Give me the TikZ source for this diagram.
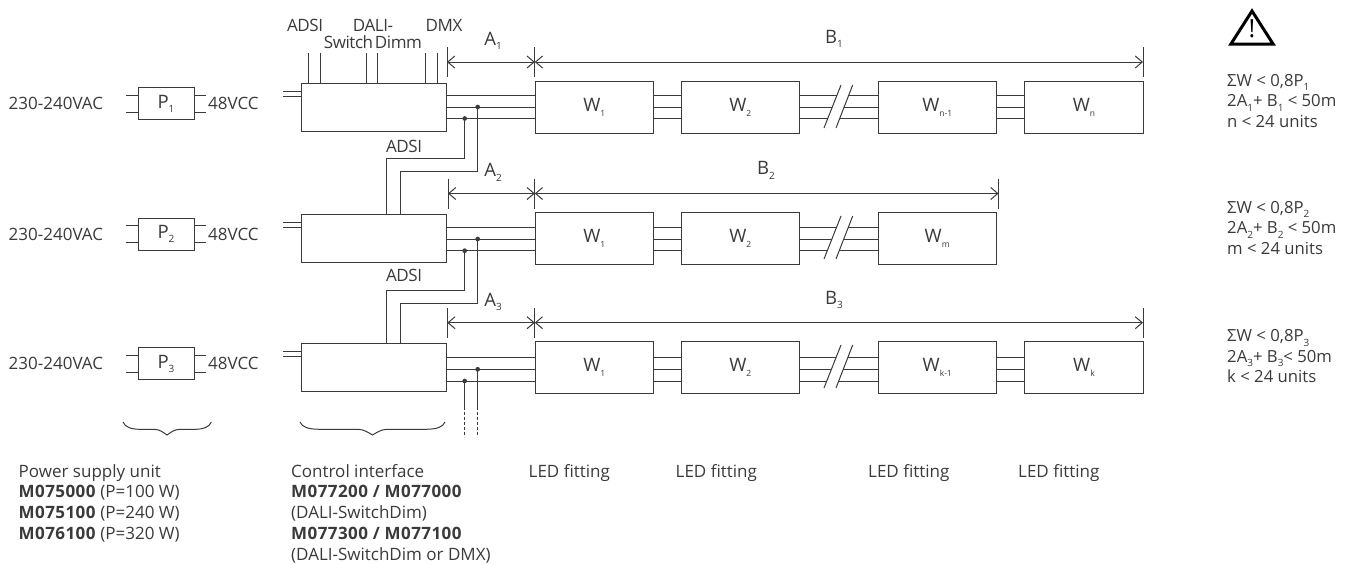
\documentclass[tikz,border=0pt]{standalone}
\usepackage{fontspec}
\setmainfont{Open Sans}
\usetikzlibrary{arrows.meta}
\definecolor{ink}{HTML}{3A3A3A}
\newcommand{\subl}[1]{\raisebox{-4.5pt}{\fontsize{10}{10}\selectfont #1}}
\newcommand{\subw}[1]{\raisebox{-5pt}{\fontsize{8.5}{8.5}\selectfont #1}}
\newcommand{\code}[1]{\textbf{\addfontfeature{LetterSpace=2.5}#1}}
\begin{document}
\begin{tikzpicture}[
    x=1pt,y=-1pt,
    every node/.style={font=\fontsize{17}{20}\selectfont, text=ink},
    wire/.style={draw=ink, line width=1pt},
    unit/.style={wire, inner sep=0pt, outer sep=0pt, fill=white, font=\fontsize{18.5}{20}\selectfont},
    psu/.style={unit, minimum width=56pt, minimum height=32pt},
    ctrl/.style={unit, minimum width=145pt, minimum height=48pt},
    fitting/.style={unit, minimum width=118.5pt, minimum height=52pt},
    dot/.style={circle, fill=ink, inner sep=0pt, minimum size=4.7pt},
    dim/.style={wire, {Straight Barb[length=7pt,width=12pt]}-{Straight Barb[length=7pt,width=12pt]}},
    dimlabel/.style={font=\fontsize{18.5}{20}\selectfont},
    toplabel/.style={font=\fontsize{17}{17}\selectfont\addfontfeature{LetterSpace=-2.5}},
    mains/.style={anchor=west, inner sep=0pt},
    note/.style={anchor=north west, align=left, inner sep=0pt, font=\fontsize{16.7}{20.5}\selectfont},
    caption/.style={anchor=north west, align=left, inner sep=0pt, font=\fontsize{17}{20.7}\selectfont}
]
    \useasboundingbox (0,0) rectangle (1347,565);

    \foreach \r/\py/\cy/\ya/\yb/\yc/\t in {1/103.7/107/95/107/118.5/128, 2/234/238.2/227.3/239/250.7/259, 3/363.7/367/357.7/369.3/381/388} {
        \node[mains] (ac\r) at (8.5,\py) {230-240VAC};
        \node[psu] (psu\r) at (166,\py) {P\subl{\r}};
        \node[mains] (dc\r) at (208,\py) {48VCC};
        \draw[wire] ([yshift=8.5pt]psu\r.west) -- ++(-12,0);
        \draw[wire] ([yshift=-8.5pt]psu\r.west) -- ++(-12,0);
        \draw[wire] ([yshift=8.5pt]psu\r.east) -- ++(12,0);
        \draw[wire] ([yshift=-8.5pt]psu\r.east) -- ++(12,0);

        \node[ctrl] (ctrl\r) at (373.5,\cy) {};
        \draw[wire] ([yshift=16pt]ctrl\r.west) -- ++(-18.5,0);
        \draw[wire] ([yshift=10.5pt]ctrl\r.west) -- ++(-18.5,0);

        \node[fitting] (w\r1) at (594.25,\cy) {W\subw{1}};
        \node[fitting] (w\r2) at (740.25,\cy) {W\subw{2}};
        \node[fitting] (w\r3) at (937.25,\cy) {W\subw{\ifcase\r\or n-1\or m\or k-1\fi}};

        \foreach \y in {\ya,\yb,\yc} {
            \draw[wire] (ctrl\r.east |- 0,\y) -- (w\r1.west |- 0,\y);
            \draw[wire] (w\r1.east |- 0,\y) -- (w\r2.west |- 0,\y);
            \draw[wire] (w\r2.east |- 0,\y) -- (824+0.395*\t-0.395*\y,\y);
            \draw[wire] (836+0.39*\t-0.39*\y,\y) -- (w\r3.west |- 0,\y);
        }
        \draw[wire] (824,\t) -- (841,\t-43);
        \draw[wire] (836,\t) -- (852.7,\t-43);

        \node[dot] (dotb\r) at (477.7,\yb) {};
        \node[dot] (dotc\r) at (464.7,\yc) {};
    }

    \node[fitting] (w14) at (1084,107) {W\subw{n}};
    \node[fitting] (w34) at (1084,367) {W\subw{k}};
    \foreach \y in {95,107,118.5} {
        \draw[wire] (w13.east |- 0,\y) -- (w14.west |- 0,\y);
    }
    \foreach \y in {357.7,369.3,381} {
        \draw[wire] (w33.east |- 0,\y) -- (w34.west |- 0,\y);
    }

    \foreach \x in {308,320,366,377.5,425.7,437.5} {
        \draw[wire] (ctrl1.north -| \x,0) -- ++(0,-30);
    }
    \node[toplabel] (adsitop) at (305,25.5) {ADSI};
    \node[toplabel] (dalitop) at (373,25.5) {DALI-};
    \node[toplabel] (switchtop) at (348.5,42) {Switch};
    \node[toplabel] (dimmtop) at (398.5,42) {Dimm};
    \node[toplabel] (dmxtop) at (444,25.5) {DMX};
    \node[toplabel] (adsione) at (404,146) {ADSI};
    \node[toplabel] (adsitwo) at (404,275.5) {ADSI};

    \coordinate (bendc1) at (386.4,158.5);
    \coordinate (bendb1) at (400,171);
    \coordinate (bendc2) at (386.4,290.7);
    \coordinate (bendb2) at (400,303.3);
    \foreach \r/\n in {1/2,2/3} {
        \draw[wire] (dotc\r.center) |- (bendc\r) -- (bendc\r |- ctrl\n.north);
        \draw[wire] (dotb\r.center) |- (bendb\r) -- (bendb\r |- ctrl\n.north);
    }
    \coordinate (endb3) at (477.7,406.7);
    \coordinate (endc3) at (464.7,406.7);
    \draw[wire] (dotb3.center) -- (endb3);
    \draw[wire] (dotc3.center) -- (endc3);
    \draw[wire, densely dashed] (endb3) -- ++(0,30);
    \draw[wire, densely dashed] (endc3) -- ++(0,30);

    \foreach \r/\y/\al/\br/\tx in {1/62/447/1143/834, 2/193.5/448/998.5/766, 3/322.7/447.3/1143/834} {
        \coordinate (aleft\r) at (\al,\y);
        \coordinate (amid\r) at (534.8,\y);
        \coordinate (bright\r) at (\br,\y);
        \draw[wire] (aleft\r) ++(0,-15) -- ++(0,30);
        \draw[wire] (amid\r) ++(0,-15) -- ++(0,30);
        \draw[wire] (bright\r) ++(0,-15) -- ++(0,30);
        \draw[dim] (aleft\r) -- (amid\r);
        \draw[dim] (amid\r) -- (bright\r);
        \node[dimlabel] (alabel\r) at (493,\y-21) {A\subl{\r}};
        \node[dimlabel] (blabel\r) at (\tx,\y-23) {B\subl{\r}};
    }

    \draw[wire] (123,422) .. controls (125,427) and (131,429.3) .. (140,429.3) -- (154,429.3) .. controls (160,429.3) and (164,433) .. (167,435) .. controls (170,433) and (174,429.3) .. (180,429.3) -- (195,429.3) .. controls (204,429.3) and (209,427) .. (211.4,422);
    \draw[wire] (300,422) .. controls (302,427) and (308,429.3) .. (320,429.3) -- (358,429.3) .. controls (364,429.3) and (369,433) .. (372.5,435) .. controls (376,433) and (381,429.3) .. (387,429.3) -- (425,429.3) .. controls (437,429.3) and (443,427) .. (445,422);

    \node[caption] (psutext) at (18.5,464) {Power supply unit\\\code{M075000} (P=100 W)\\\code{M075100} (P=240 W)\\\code{M076100} (P=320 W)};
    \node[caption] (ctrltext) at (291,464) {Control interface\\\code{M077200 / M077000}\\(DALI-SwitchDim)\\\code{M077300 / M077100}\\(DALI-SwitchDim or DMX)};
    \foreach \n/\x in {a/528.5,b/675.5,c/868,d/1018} {
        \node[caption] (led\n) at (\x,464) {LED fitting};
    }

    \draw[draw=black, line width=3pt, line join=miter] (1252,11) -- (1273.2,44.2) -- (1230.8,44.2) -- cycle;
    \node[font=\fontsize{25}{25}\selectfont, text=black] (warnmark) at (1252,28.5) {!};

    \node[note] (rulesone) at (1227,74) {ΣW < 0,8P\subl{1}\\2A\subl{1}+ B\subl{1} < 50m\\n < 24 units};
    \node[note] (rulestwo) at (1227,201) {ΣW < 0,8P\subl{2}\\2A\subl{2}+ B\subl{2} < 50m\\m < 24 units};
    \node[note] (rulesthree) at (1227,329.5) {ΣW < 0,8P\subl{3}\\2A\subl{3}+ B\subl{3}< 50m\\k < 24 units};
\end{tikzpicture}
\end{document}
